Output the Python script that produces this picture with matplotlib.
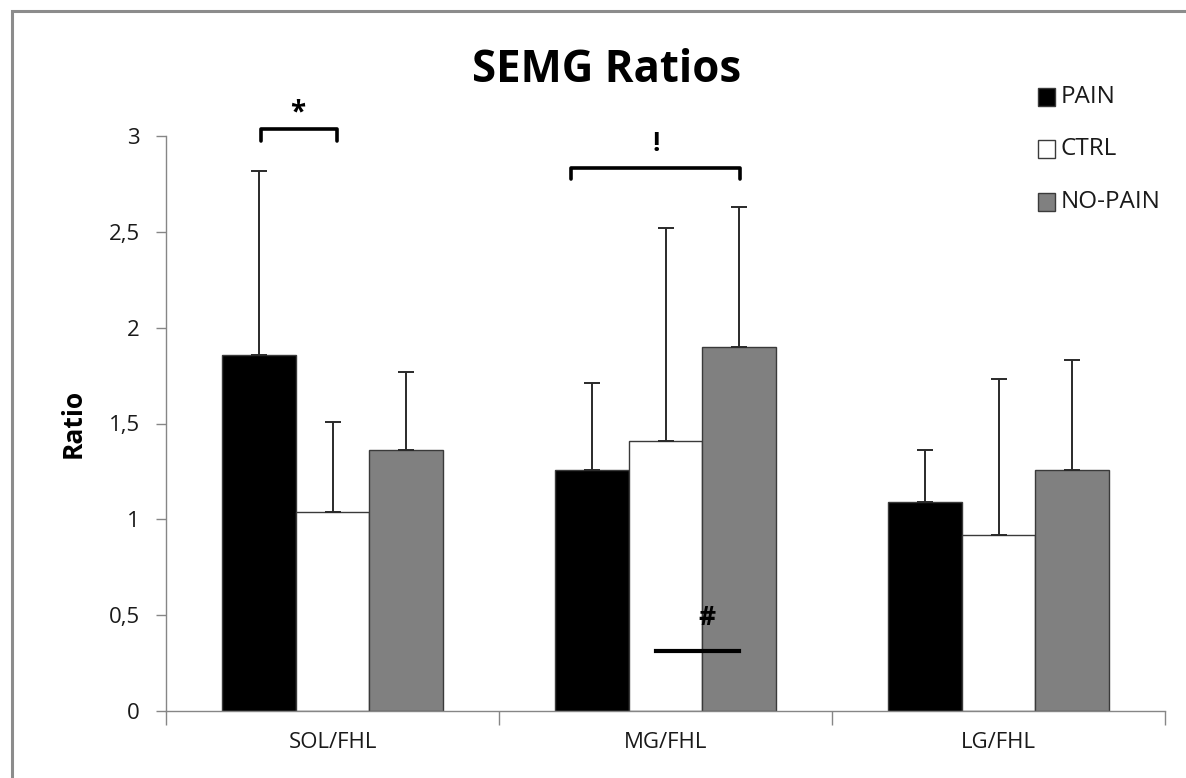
import matplotlib
matplotlib.use("Agg")
import matplotlib.pyplot as plt
import numpy as np
from matplotlib.patches import Rectangle

categories = ["SOL/FHL", "MG/FHL", "LG/FHL"]
series = ["PAIN", "CTRL", "NO-PAIN"]
pain = [1.86, 1.26, 1.09]
ctrl = [1.04, 1.41, 0.92]
nopain = [1.36, 1.90, 1.26]
pain_err = [0.96, 0.45, 0.27]
ctrl_err = [0.47, 1.11, 0.81]
nopain_err = [0.41, 0.73, 0.57]
yticks = [0, 0.5, 1, 1.5, 2, 2.5, 3]
ytick_labels = ["0", "0,5", "1", "1,5", "2", "2,5", "3"]

colors = ["#000000", "#ffffff", "#808080"]

plt.rcParams['font.family'] = ['Open Sans', 'DejaVu Sans']

W, H = 1186, 778
fig = plt.figure(figsize=(W/100, H/100), dpi=100)
ax = fig.add_axes([166/W, 1-711/H, (1165-166)/W, (711-136)/H])

x = np.arange(len(categories))
w = 0.222
vals = [pain, ctrl, nopain]
errs = [pain_err, ctrl_err, nopain_err]
for i, (v, e, c, lab) in enumerate(zip(vals, errs, colors, series)):
    pos = x + (i - 1) * w
    ax.bar(pos, v, width=w, color=c, edgecolor="#3a3a3a", linewidth=1.0, label=lab, zorder=2)
    ax.errorbar(pos, v, yerr=[np.zeros(len(v)), e], fmt="none", ecolor="#2a2a2a",
                elinewidth=1.4, capsize=5.5, capthick=1.4, zorder=3)

ax.set_xlim(-0.5, 2.5)
ax.set_ylim(0, 3)
ax.set_yticks(yticks)
ax.set_yticklabels(ytick_labels, fontsize=16, color="#1a1a1a")
ax.set_xticks([-0.5, 0.5, 1.5, 2.5])
ax.set_xticklabels([])
ax.set_xticks(x, minor=True)
ax.set_xticklabels(categories, minor=True, fontsize=16, color="#1a1a1a")
ax.tick_params(axis="x", which="major", length=10, width=1, color="#868686", direction="out")
ax.tick_params(axis="x", which="minor", length=0, pad=15)
ax.tick_params(axis="y", length=7, width=1, color="#868686", direction="out", pad=12)
for s in ["top", "right"]:
    ax.spines[s].set_visible(False)
for s in ["left", "bottom"]:
    ax.spines[s].set_color("#868686")
    ax.spines[s].set_linewidth(1)

ax.set_ylabel("Ratio", fontsize=19, fontweight="bold")
ax.yaxis.set_label_coords((87-166)/999, 0.5)

# significance brackets
def bracket(x0, x1, ytop, ybot):
    ax.plot([x0, x0, x1, x1], [ybot, ytop, ytop, ybot], color="black", lw=2.6,
            solid_joinstyle="round", solid_capstyle="round", clip_on=False, zorder=4)

bracket(-0.215, 0.013, 3.036, 2.973)
ax.text(-0.104, 3.12, "*", ha="center", va="center", fontsize=20, fontweight="bold")
bracket(0.716, 1.224, 2.833, 2.775)
ax.text(0.971, 2.96, "!", ha="center", va="center", fontsize=19, fontweight="bold")
ax.plot([0.971, 1.221], [0.313, 0.313], color="black", lw=3, zorder=4)
ax.text(1.125, 0.49, "#", ha="center", va="center", fontsize=19, fontweight="bold")

fig.text(607/W, 1-71/H, "SEMG Ratios", ha="center", va="center", fontsize=31.5, fontweight="bold")

# legend (manual placement)
leg_y = [97, 149, 202]
for lab, c, yy in zip(series, colors, leg_y):
    fig.patches.append(Rectangle((1038/W, 1-(yy+8.5)/H), 17/W, 17/H, transform=fig.transFigure,
                                 facecolor=c, edgecolor="#3a3a3a", linewidth=1.0))
    fig.text(1061/W, 1-yy/H, lab, ha="left", va="center", fontsize=17.5, color="#1a1a1a")

# outer frame
fig.patches.append(Rectangle((12/W, -0.1), 1.2, 1-11/H+0.1, transform=fig.transFigure,
                             fill=False, edgecolor="#8c8c8c", linewidth=2.2))

fig.savefig("out.png", dpi=100)
